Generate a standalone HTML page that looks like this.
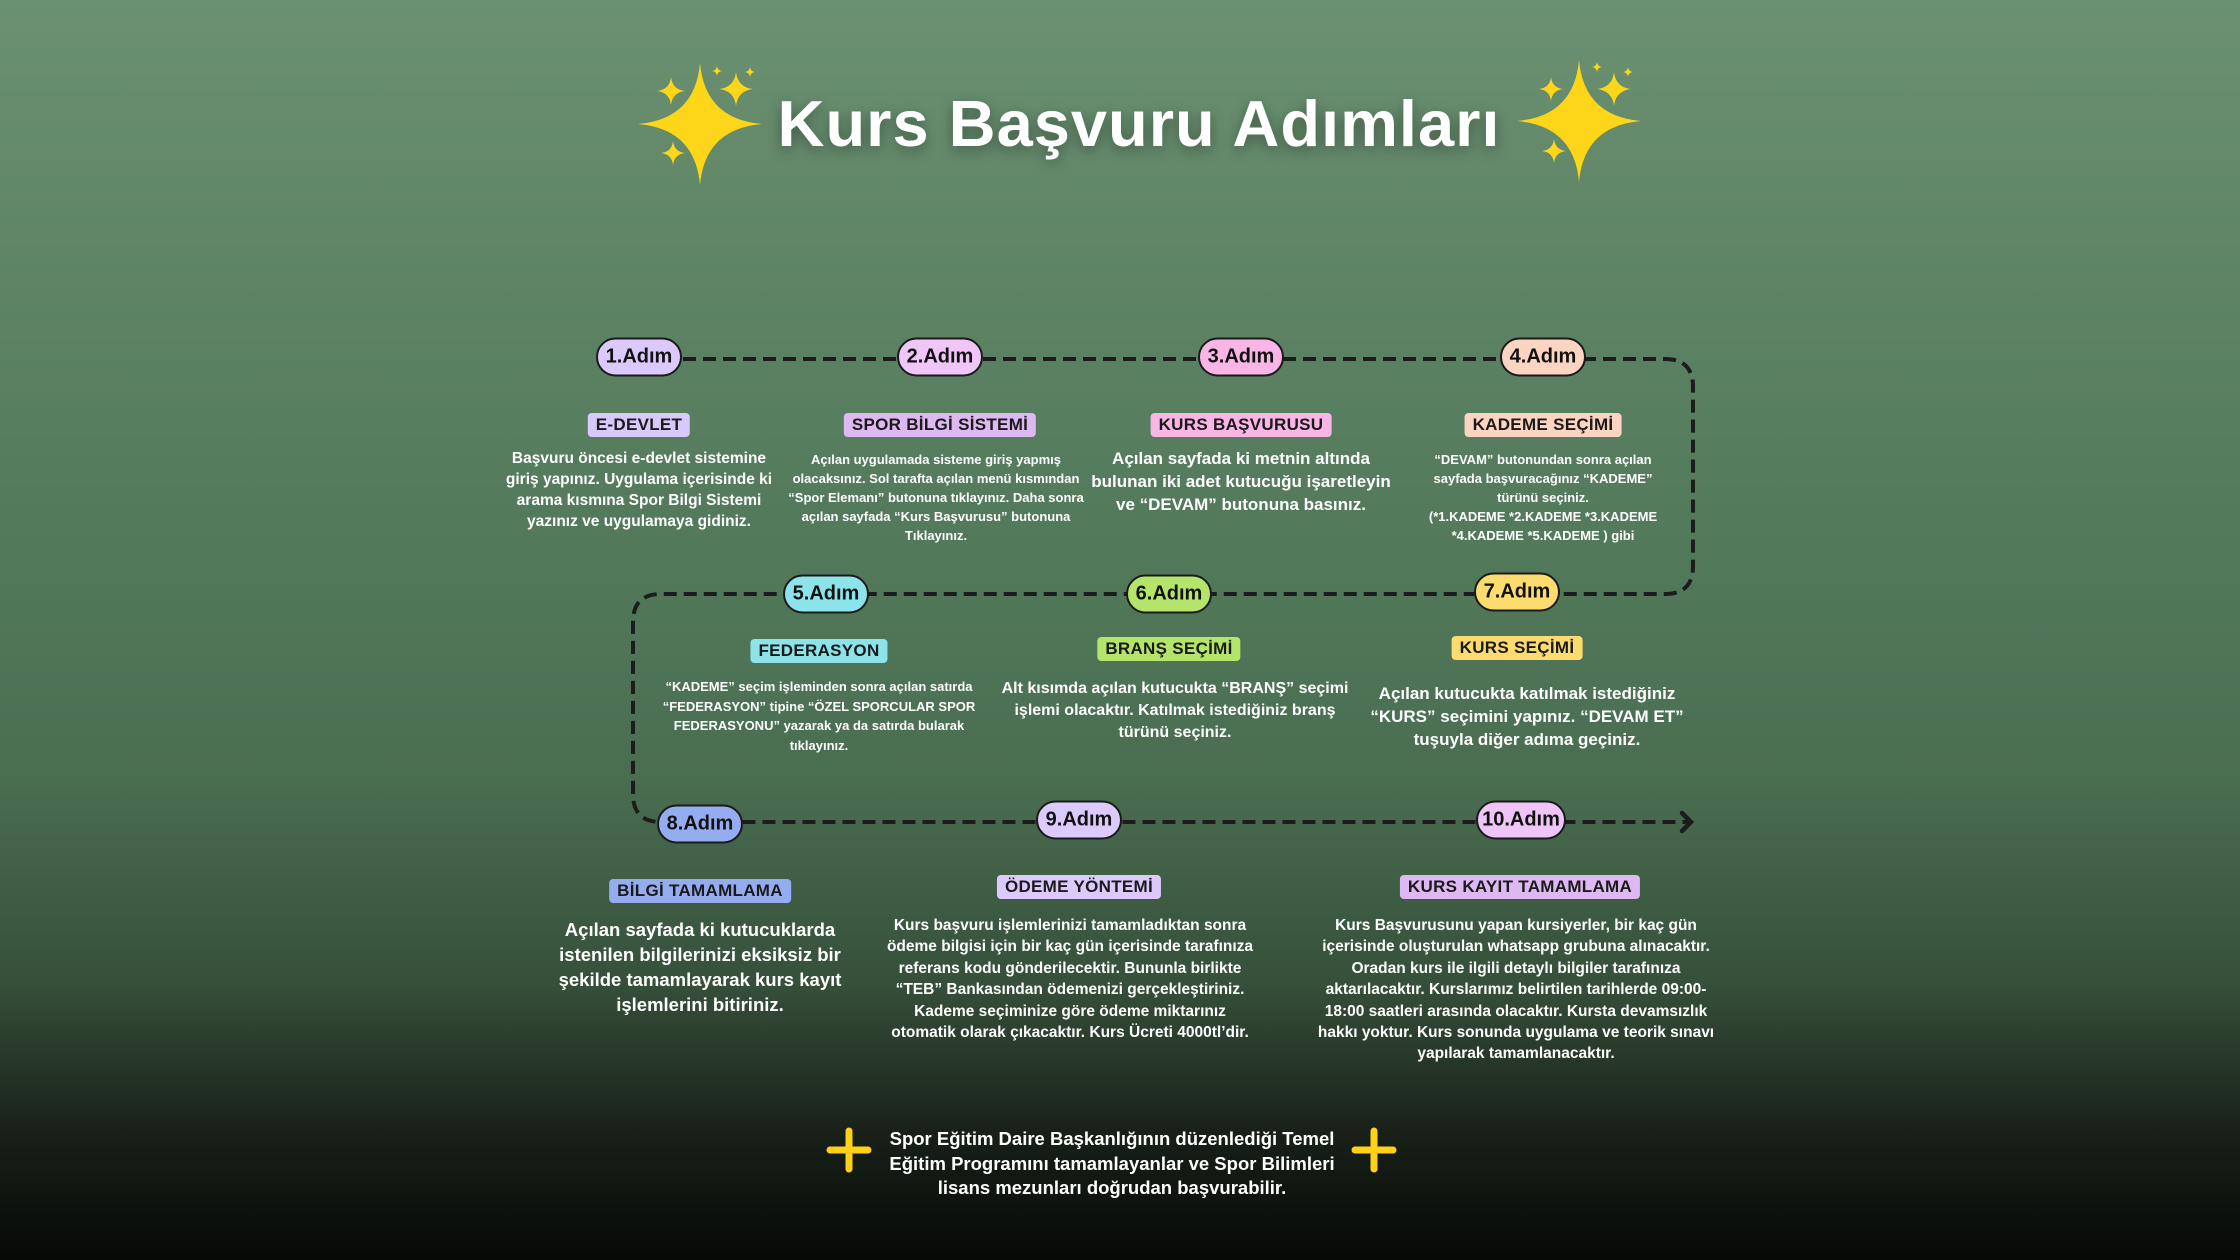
<!DOCTYPE html>
<html><head><meta charset="utf-8"><style>
html,body{margin:0;padding:0}
body{width:2240px;height:1260px;position:relative;overflow:hidden;
background:linear-gradient(180deg,#6b9172 0%,#5f8566 20%,#52785a 45%,#4a6d50 62%,#36503a 78%,#182018 90%,#070907 100%);
font-family:"Liberation Sans",sans-serif;}
.t{position:absolute;transform:translateX(-50%);text-align:center;white-space:nowrap;color:#fff;font-weight:bold}
.pill{position:absolute;transform:translate(-50%,-50%);height:39px;width:86px;border:2.5px solid #1a1a1a;border-radius:20px;
font-weight:bold;font-size:20px;color:#111;display:flex;align-items:center;justify-content:center;box-sizing:border-box}
.lab{position:absolute;transform:translate(-50%,-50%);padding:2px 8px;border-radius:4px;font-weight:bold;font-size:17px;color:#1a1a1a;white-space:nowrap;letter-spacing:0.3px}
.d{position:absolute;transform:translateX(-50%);text-align:center;white-space:nowrap;color:#fff;font-weight:bold;font-family:"Liberation Sans Narrow","Liberation Sans",sans-serif}
</style></head><body>
<svg width="2240" height="1260" style="position:absolute;left:0;top:0">
<g fill="#fdd61a">
<path transform="translate(700,124) scale(62,61)" d="M0,-1 Q0.08,-0.08 1,0 Q0.08,0.08 0,1 Q-0.08,0.08 -1,0 Q-0.08,-0.08 0,-1Z"/>
<path transform="translate(671,91) scale(14)" d="M0,-1 Q0.1,-0.1 1,0 Q0.1,0.1 0,1 Q-0.1,0.1 -1,0 Q-0.1,-0.1 0,-1Z"/>
<path transform="translate(736,89) scale(17)" d="M0,-1 Q0.1,-0.1 1,0 Q0.1,0.1 0,1 Q-0.1,0.1 -1,0 Q-0.1,-0.1 0,-1Z"/>
<path transform="translate(673,153) scale(12)" d="M0,-1 Q0.1,-0.1 1,0 Q0.1,0.1 0,1 Q-0.1,0.1 -1,0 Q-0.1,-0.1 0,-1Z"/>
<path transform="translate(717,71) scale(5)" d="M0,-1 Q0.1,-0.1 1,0 Q0.1,0.1 0,1 Q-0.1,0.1 -1,0 Q-0.1,-0.1 0,-1Z"/>
<path transform="translate(750,72) scale(5)" d="M0,-1 Q0.1,-0.1 1,0 Q0.1,0.1 0,1 Q-0.1,0.1 -1,0 Q-0.1,-0.1 0,-1Z"/>
<path transform="translate(1579,121) scale(62,61)" d="M0,-1 Q0.08,-0.08 1,0 Q0.08,0.08 0,1 Q-0.08,0.08 -1,0 Q-0.08,-0.08 0,-1Z"/>
<path transform="translate(1551,89) scale(12)" d="M0,-1 Q0.1,-0.1 1,0 Q0.1,0.1 0,1 Q-0.1,0.1 -1,0 Q-0.1,-0.1 0,-1Z"/>
<path transform="translate(1614,89) scale(17)" d="M0,-1 Q0.1,-0.1 1,0 Q0.1,0.1 0,1 Q-0.1,0.1 -1,0 Q-0.1,-0.1 0,-1Z"/>
<path transform="translate(1554,151) scale(12)" d="M0,-1 Q0.1,-0.1 1,0 Q0.1,0.1 0,1 Q-0.1,0.1 -1,0 Q-0.1,-0.1 0,-1Z"/>
<path transform="translate(1597,67) scale(5)" d="M0,-1 Q0.1,-0.1 1,0 Q0.1,0.1 0,1 Q-0.1,0.1 -1,0 Q-0.1,-0.1 0,-1Z"/>
<path transform="translate(1628,72) scale(5)" d="M0,-1 Q0.1,-0.1 1,0 Q0.1,0.1 0,1 Q-0.1,0.1 -1,0 Q-0.1,-0.1 0,-1Z"/>
</g>
<path d="M683 359 H1665 Q1693 359 1693 387 V566 Q1693 594 1665 594 H661 Q633 594 633 622 V794 Q633 822 661 822 H1688" fill="none" stroke="#1c1c1c" stroke-width="4" stroke-dasharray="13 7"/>
<path d="M1682 813 L1691 822 L1682 831" fill="none" stroke="#1c1c1c" stroke-width="4.5" stroke-linecap="round"/>
<g stroke="#fcd116" stroke-width="7" stroke-linecap="round">
<path d="M849 1131 V1169 M830 1150 H868"/>
<path d="M1374 1131 V1169 M1355 1150 H1393"/>
</g>
</svg>

<div class="t" style="left:1139px;top:84px;font-size:65px;line-height:80px;letter-spacing:1px;text-shadow:0 4px 14px rgba(0,0,0,0.35)">Kurs Başvuru Adımları</div>

<div class="pill" style="left:639px;top:357px;background:#dcc9fb">1.Adım</div>
<div class="pill" style="left:940px;top:357px;background:#efc6f7">2.Adım</div>
<div class="pill" style="left:1241px;top:357px;background:#f8b5e6">3.Adım</div>
<div class="pill" style="left:1543px;top:357px;background:#fcd4c2">4.Adım</div>
<div class="pill" style="left:826px;top:594px;background:#8de3ea">5.Adım</div>
<div class="pill" style="left:1169px;top:594px;background:#b4e46a">6.Adım</div>
<div class="pill" style="left:1517px;top:592px;background:#fddc6f">7.Adım</div>
<div class="pill" style="left:700px;top:824px;background:#95acf0">8.Adım</div>
<div class="pill" style="left:1079px;top:820px;background:#dccafc">9.Adım</div>
<div class="pill" style="left:1521px;top:820px;width:90px;background:#efc4f7">10.Adım</div>

<div class="lab" style="left:639px;top:425px;background:#d9c8fa">E-DEVLET</div>
<div class="lab" style="left:940px;top:425px;background:#deb8f0">SPOR BİLGİ SİSTEMİ</div>
<div class="lab" style="left:1241px;top:425px;background:#f8b5e6">KURS BAŞVURUSU</div>
<div class="lab" style="left:1543px;top:425px;background:#fcd4c2">KADEME SEÇİMİ</div>
<div class="lab" style="left:819px;top:651px;background:#8de3ea">FEDERASYON</div>
<div class="lab" style="left:1169px;top:649px;background:#b4e46a">BRANŞ SEÇİMİ</div>
<div class="lab" style="left:1517px;top:648px;background:#fddc6f">KURS SEÇİMİ</div>
<div class="lab" style="left:700px;top:891px;background:#95acf0">BİLGİ TAMAMLAMA</div>
<div class="lab" style="left:1079px;top:887px;background:#dccafc">ÖDEME YÖNTEMİ</div>
<div class="lab" style="left:1520px;top:887px;background:#deb8f0">KURS KAYIT TAMAMLAMA</div>

<div class="d" style="left:639px;top:448px;font-size:15.5px;line-height:21px">Başvuru öncesi e-devlet sistemine<br>giriş yapınız. Uygulama içerisinde ki<br>arama kısmına Spor Bilgi Sistemi<br>yazınız ve uygulamaya gidiniz.</div>
<div class="d" style="left:936px;top:450px;font-size:13px;line-height:19px">Açılan uygulamada sisteme giriş yapmış<br>olacaksınız. Sol tarafta açılan menü kısmından<br>“Spor Elemanı” butonuna tıklayınız. Daha sonra<br>açılan sayfada “Kurs Başvurusu” butonuna<br>Tıklayınız.</div>
<div class="d" style="left:1241px;top:447px;font-size:17px;line-height:23px">Açılan sayfada ki metnin altında<br>bulunan iki adet kutucuğu işaretleyin<br>ve “DEVAM” butonuna basınız.</div>
<div class="d" style="left:1543px;top:450px;font-size:13px;line-height:19px">“DEVAM” butonundan sonra açılan<br>sayfada başvuracağınız “KADEME”<br>türünü seçiniz.<br>(*1.KADEME *2.KADEME *3.KADEME<br>*4.KADEME *5.KADEME ) gibi</div>
<div class="d" style="left:819px;top:677px;font-size:13px;line-height:19.6px">“KADEME” seçim işleminden sonra açılan satırda<br>“FEDERASYON” tipine “ÖZEL SPORCULAR SPOR<br>FEDERASYONU” yazarak ya da satırda bularak<br>tıklayınız.</div>
<div class="d" style="left:1175px;top:678px;font-size:16px;line-height:22px">Alt kısımda açılan kutucukta “BRANŞ” seçimi<br>işlemi olacaktır. Katılmak istediğiniz branş<br>türünü seçiniz.</div>
<div class="d" style="left:1527px;top:682px;font-size:17px;line-height:23px">Açılan kutucukta katılmak istediğiniz<br>“KURS” seçimini yapınız. “DEVAM ET”<br>tuşuyla diğer adıma geçiniz.</div>
<div class="d" style="left:700px;top:917px;font-size:18.5px;line-height:25px">Açılan sayfada ki kutucuklarda<br>istenilen bilgilerinizi eksiksiz bir<br>şekilde tamamlayarak kurs kayıt<br>işlemlerini bitiriniz.</div>
<div class="d" style="left:1070px;top:915px;font-size:15.5px;line-height:21.4px">Kurs başvuru işlemlerinizi tamamladıktan sonra<br>ödeme bilgisi için bir kaç gün içerisinde tarafınıza<br>referans kodu gönderilecektir. Bununla birlikte<br>“TEB” Bankasından ödemenizi gerçekleştiriniz.<br>Kademe seçiminize göre ödeme miktarınız<br>otomatik olarak çıkacaktır. Kurs Ücreti 4000tl’dir.</div>
<div class="d" style="left:1516px;top:915px;font-size:15.5px;line-height:21.4px">Kurs Başvurusunu yapan kursiyerler, bir kaç gün<br>içerisinde oluşturulan whatsapp grubuna alınacaktır.<br>Oradan kurs ile ilgili detaylı bilgiler tarafınıza<br>aktarılacaktır. Kurslarımız belirtilen tarihlerde 09:00-<br>18:00 saatleri arasında olacaktır. Kursta devamsızlık<br>hakkı yoktur. Kurs sonunda uygulama ve teorik sınavı<br>yapılarak tamamlanacaktır.</div>

<div class="t" style="left:1112px;top:1127px;font-size:18.5px;line-height:24.5px">Spor Eğitim Daire Başkanlığının düzenlediği Temel<br>Eğitim Programını tamamlayanlar ve Spor Bilimleri<br>lisans mezunları doğrudan başvurabilir.</div>
</body></html>
